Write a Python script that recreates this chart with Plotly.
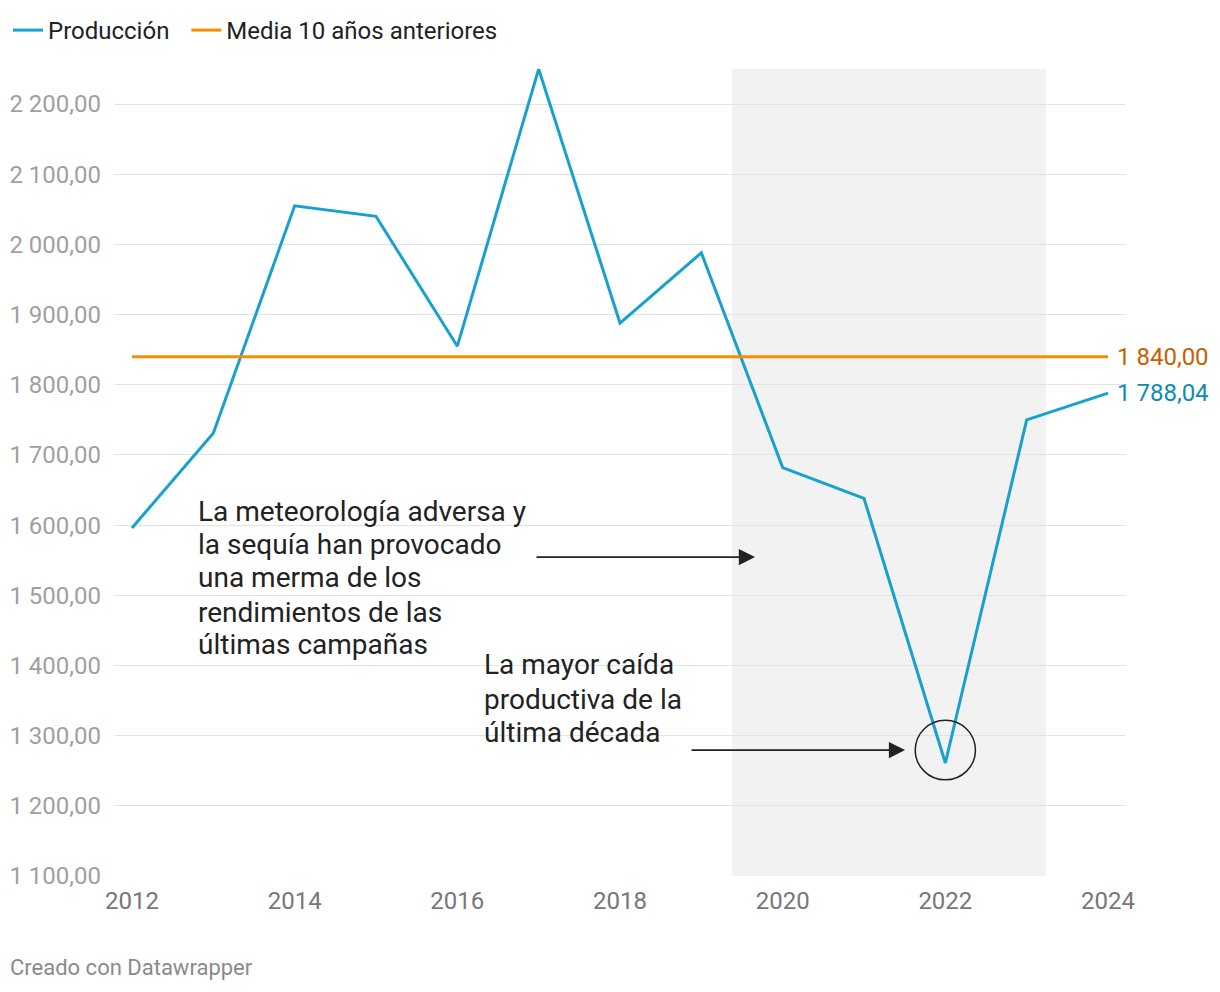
import plotly.graph_objects as go

years = [2012, 2013, 2014, 2015, 2016, 2017, 2018, 2019, 2020, 2021, 2022, 2023, 2024]
produccion = [1596, 1731, 2055, 2040, 1855, 2250, 1888, 1988, 1682, 1638, 1261, 1750, 1788.04]
media = [1840.0] * len(years)

y_ticks = [1100, 1200, 1300, 1400, 1500, 1600, 1700, 1800, 1900, 2000, 2100, 2200]
y_tick_labels = ["1 100,00", "1 200,00", "1 300,00", "1 400,00", "1 500,00", "1 600,00",
                 "1 700,00", "1 800,00", "1 900,00", "2 000,00", "2 100,00", "2 200,00"]
x_ticks = [2012, 2014, 2016, 2018, 2020, 2022, 2024]

note1_lines = ["La meteorología adversa y", "la sequía han provocado", "una merma de los",
               "rendimientos de las", "últimas campañas"]
note2_lines = ["La mayor caída", "productiva de la", "última década"]

BLUE = "#18a1cd"
ORANGE = "#fa8c00"
FONT = "Roboto"
TEXT = "#222222"
NBSP = "\u00a0"

fig = go.Figure()
fig.add_trace(go.Scatter(x=years, y=produccion, mode="lines", name="Producción" + NBSP * 2,
                         line=dict(color=BLUE, width=3)))
fig.add_trace(go.Scatter(x=years, y=media, mode="lines", name="Media 10 años anteriores",
                         line=dict(color=ORANGE, width=3)))

# shaded period
fig.add_shape(type="rect", xref="x", yref="y", x0=2019.377, x1=2023.238, y0=1100, y1=2250,
              fillcolor="#f2f2f2", line=dict(width=0), layer="below")
# circle around 2022
fig.add_shape(type="circle", xref="x", yref="y", x0=2021.63, x1=2022.37, y0=1237, y1=1322,
              line=dict(color=TEXT, width=1.5))

annotations = [
    dict(x=2024, y=1840, xref="x", yref="y", text="1 840,00", showarrow=False,
         xanchor="left", xshift=7, font=dict(family=FONT, size=24, color="#c76000")),
    dict(x=2024, y=1788.04, xref="x", yref="y", text="1 788,04", showarrow=False,
         xanchor="left", xshift=7, font=dict(family=FONT, size=24, color="#0f8ab5")),
    dict(x=2019.66, y=1554.5, ax=2016.955, ay=1554.5, xref="x", yref="y", axref="x", ayref="y",
         text="", showarrow=True, arrowhead=2, arrowsize=1.8, arrowwidth=1.8, arrowcolor=TEXT),
    dict(x=2021.505, y=1279.5, ax=2018.861, ay=1279.5, xref="x", yref="y", axref="x", ayref="y",
         text="", showarrow=True, arrowhead=2, arrowsize=1.8, arrowwidth=1.8, arrowcolor=TEXT),
    dict(x=-0.1048, y=-0.114, xref="paper", yref="paper", xanchor="left", yanchor="middle",
         text="Creado con Datawrapper", showarrow=False,
         font=dict(family=FONT, size=22, color="#8a8a8a")),
]

note1_y = [1620.1, 1571.7, 1524.7, 1476.2, 1429.2]
for txt, yy in zip(note1_lines, note1_y):
    annotations.append(dict(x=2012.787, y=yy, xref="x", yref="y", xanchor="left", yanchor="middle",
                            text=txt, showarrow=False, font=dict(family=FONT, size=28, color=TEXT)))
note2_y = [1400.7, 1352.2, 1303.8]
for txt, yy in zip(note2_lines, note2_y):
    annotations.append(dict(x=2016.304, y=yy, xref="x", yref="y", xanchor="left", yanchor="middle",
                            text=txt, showarrow=False, font=dict(family=FONT, size=28, color=TEXT)))

fig.update_layout(
    width=1212, height=984,
    margin=dict(l=106, r=94, t=61, b=116),
    paper_bgcolor="white", plot_bgcolor="white",
    font=dict(family=FONT, size=24, color="#333333"),
    showlegend=True,
    legend=dict(orientation="h", xref="container", yref="container", x=0.0, y=1.0,
                xanchor="left", yanchor="top", font=dict(family=FONT, size=24, color=TEXT),
                itemwidth=30, bgcolor="rgba(0,0,0,0)"),
    xaxis=dict(range=[2011.779, 2024.221], tickvals=x_ticks, showgrid=False, zeroline=False,
               showline=False, ticks="", ticklabelstandoff=8, automargin=False,
               tickfont=dict(family=FONT, size=24, color="#777777"), fixedrange=True),
    yaxis=dict(range=[1100, 2250], tickvals=y_ticks, ticktext=y_tick_labels, showgrid=True,
               gridcolor="#e3e3e3", gridwidth=1, zeroline=False, showline=False, ticks="",
               ticklabelstandoff=12, automargin=False,
               tickfont=dict(family=FONT, size=24, color="#a0a0a0"), fixedrange=True),
    annotations=annotations,
)

fig.write_html("out.html")
